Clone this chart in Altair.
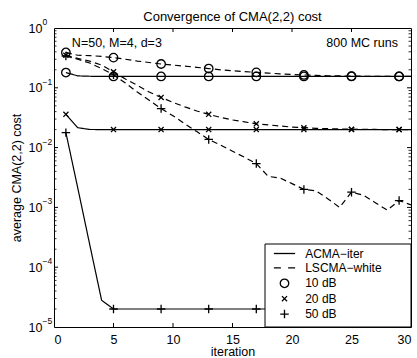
import altair as alt
import pandas as pd

# ---------------- data ----------------
iterations = list(range(1, 31))

acma_10 = [0.180, 0.158, 0.156, 0.155, 0.155, 0.155, 0.155, 0.155, 0.155, 0.155,
           0.155, 0.155, 0.155, 0.155, 0.155, 0.155, 0.155, 0.155, 0.155, 0.155,
           0.155, 0.155, 0.155, 0.155, 0.155, 0.155, 0.155, 0.155, 0.155, 0.155]
acma_20 = [0.036, 0.0215, 0.0201, 0.0200, 0.0200, 0.0200, 0.0200, 0.0200, 0.0200, 0.0200,
           0.0200, 0.0200, 0.0200, 0.0200, 0.0200, 0.0200, 0.0200, 0.0200, 0.0200, 0.0200,
           0.0200, 0.0200, 0.0200, 0.0200, 0.0200, 0.0200, 0.0200, 0.0200, 0.0200, 0.0200]
acma_50 = [0.0178, 0.0021, 0.00024, 0.000028, 0.000020, 0.000020, 0.000020, 0.000020, 0.000020, 0.000020,
           0.000020, 0.000020, 0.000020, 0.000020, 0.000020, 0.000020, 0.000020, 0.000020, 0.000020, 0.000020,
           0.000020, 0.000020, 0.000020, 0.000020, 0.000020, 0.000020, 0.000020, 0.000020, 0.000020, 0.000020]
lscma_10 = [0.39, 0.35, 0.345, 0.335, 0.32, 0.30, 0.28, 0.265, 0.25, 0.24,
            0.23, 0.22, 0.21, 0.20, 0.193, 0.187, 0.181, 0.176, 0.171, 0.167,
            0.164, 0.161, 0.159, 0.158, 0.157, 0.156, 0.156, 0.155, 0.155, 0.155]
lscma_20 = [0.35, 0.31, 0.28, 0.24, 0.185, 0.14, 0.11, 0.085, 0.069, 0.057,
            0.048, 0.041, 0.036, 0.032, 0.029, 0.027, 0.025, 0.024, 0.023, 0.022,
            0.0215, 0.021, 0.0207, 0.0205, 0.0203, 0.0202, 0.0201, 0.0200, 0.0200, 0.0200]
lscma_50 = [0.34, 0.30, 0.26, 0.21, 0.165, 0.12, 0.085, 0.062, 0.045, 0.034,
            0.025, 0.0185, 0.0137, 0.011, 0.0087, 0.0069, 0.0054, 0.0033, 0.0031, 0.0025,
            0.0020, 0.0019, 0.0014, 0.0010, 0.0018, 0.0016, 0.0012, 0.0009, 0.0013, 0.0011]

methods = ["ACMA\u2212iter", "LSCMA\u2212white"]
snrs = ["10 dB", "20 dB", "50 dB"]

y_tick_values = [1, 0.1, 0.01, 0.001, 0.0001, 0.00001]
y_tick_exponents = ["0", "\u22121", "\u22122", "\u22123", "\u22124", "\u22125"]
x_tick_values = [0, 5, 10, 15, 20, 25, 30]

ann_left_text = ["N=50, M=4, d=3"]
ann_left_iter = [1.5]
ann_left_cost = [0.555]
ann_right_text = ["800 MC runs"]
ann_right_iter = [28.9]
ann_right_cost = [0.555]

# ---------------- tables ----------------
series = [
    (methods[0], snrs[0], acma_10), (methods[0], snrs[1], acma_20), (methods[0], snrs[2], acma_50),
    (methods[1], snrs[0], lscma_10), (methods[1], snrs[1], lscma_20), (methods[1], snrs[2], lscma_50),
]
rows = []
for m, s, vals in series:
    for it, v in zip(iterations, vals):
        rows.append({"iteration": it, "cost": v, "method": m, "snr": s, "series": m + " " + s})
df = pd.DataFrame(rows)

W, H = 357, 299
FONT = "Liberation Sans"

legend_labels = methods + snrs
shape_paths = [
    "M-2.5,0H2.5",
    "M-2.5,0H-0.85M0.85,0H2.5",
    "circle",
    "M-0.6,-0.6L0.6,0.6M-0.6,0.6L0.6,-0.6",
    "M-1,0H1M0,-1V1",
]

x_enc = alt.X(
    "iteration:Q",
    scale=alt.Scale(domain=[0, 30], nice=False, zero=False),
    axis=alt.Axis(values=x_tick_values, ticks=False, domain=False, grid=False,
                  labelPadding=6, labelFontSize=12.5, labelColor="black",
                  title="iteration", titleFontSize=12.5, titleFontWeight="normal",
                  titleColor="black", titleBaseline="alphabetic", titleY=28.5),
)
y_enc = alt.Y(
    "cost:Q",
    scale=alt.Scale(type="log", domain=[1e-5, 1], nice=False),
    axis=alt.Axis(values=y_tick_values, labelExpr="'10'", ticks=False, domain=False, grid=False,
                  labelPadding=12, labelFontSize=12.5, labelColor="black",
                  title="average CMA(2,2) cost", titleFontSize=12.5, titleFontWeight="normal",
                  titleColor="black", titleX=-38, titleY=H / 2, titleAngle=270,
                  titleBaseline="middle", titleAlign="center"),
)

base = alt.Chart(df)

lines = base.mark_line(color="black", strokeWidth=1.2).encode(
    x=x_enc, y=y_enc,
    detail="series:N",
    strokeDash=alt.StrokeDash("method:N", scale=alt.Scale(domain=methods, range=[[1, 0], [6, 4]]), legend=None),
)

points = base.transform_filter("(datum.iteration - 1) % 4 == 0").mark_point(
    filled=False, color="black", size=72, strokeWidth=1.3, opacity=1
).encode(
    x="iteration:Q", y="cost:Q",
    shape=alt.Shape(
        "snr:N",
        scale=alt.Scale(domain=legend_labels, range=shape_paths),
        legend=alt.Legend(title=None, orient="none", legendX=211, legendY=219.5, padding=0,
                          symbolOffset=13.5, labelOffset=14.7, rowPadding=2.4, symbolSize=72,
                          symbolStrokeWidth=1.3, symbolStrokeColor="black",
                          symbolFillColor="transparent", labelFontSize=12, labelColor="black",
                          labelFont=FONT),
    ),
)

# inward ticks on all four sides
xt = pd.DataFrame({"iteration": x_tick_values[1:-1]})
bottom_ticks = alt.Chart(xt).mark_rule(color="black", strokeWidth=1).encode(
    x="iteration:Q", y=alt.value(H), y2=alt.value(H - 4))
top_ticks = alt.Chart(xt).mark_rule(color="black", strokeWidth=1).encode(
    x="iteration:Q", y=alt.value(0), y2=alt.value(4))

yt_major = pd.DataFrame({"cost": y_tick_values[1:-1]})
minor_vals = [m * 10.0 ** k for k in range(-5, 0) for m in range(2, 10)]
yt_minor = pd.DataFrame({"cost": minor_vals})
left_major = alt.Chart(yt_major).mark_rule(color="black", strokeWidth=1).encode(
    y="cost:Q", x=alt.value(0), x2=alt.value(4))
right_major = alt.Chart(yt_major).mark_rule(color="black", strokeWidth=1).encode(
    y="cost:Q", x=alt.value(W), x2=alt.value(W - 4))
left_minor = alt.Chart(yt_minor).mark_rule(color="black", strokeWidth=0.8).encode(
    y="cost:Q", x=alt.value(0), x2=alt.value(2.5))
right_minor = alt.Chart(yt_minor).mark_rule(color="black", strokeWidth=0.8).encode(
    y="cost:Q", x=alt.value(W), x2=alt.value(W - 2.5))

# legend frame
legend_box = alt.Chart(pd.DataFrame({"k": [0]})).mark_rect(
    fill="white", stroke="black", strokeWidth=1
).encode(x=alt.value(211), x2=alt.value(W), y=alt.value(216), y2=alt.value(H))

# annotations
ann_l = alt.Chart(pd.DataFrame({"text": ann_left_text, "iteration": ann_left_iter, "cost": ann_left_cost})).mark_text(
    align="left", baseline="middle", fontSize=12.5, color="black", font=FONT
).encode(x="iteration:Q", y="cost:Q", text="text:N")
ann_r = alt.Chart(pd.DataFrame({"text": ann_right_text, "iteration": ann_right_iter, "cost": ann_right_cost})).mark_text(
    align="right", baseline="middle", fontSize=12.5, color="black", font=FONT
).encode(x="iteration:Q", y="cost:Q", text="text:N")

# exponents of the y tick labels
exps = alt.Chart(pd.DataFrame({"cost": y_tick_values, "exp": y_tick_exponents})).mark_text(
    align="left", baseline="middle", dy=-6, fontSize=8.5, color="black", font=FONT
).encode(y="cost:Q", x=alt.value(-11.5), text="exp:N")

chart = alt.layer(
    lines, points, bottom_ticks, top_ticks, left_major, right_major, left_minor, right_minor,
    legend_box, ann_l, ann_r, exps
).properties(
    width=W, height=H,
    autosize=alt.AutoSizeParams(type="none"),
    padding={"left": 54, "top": 28, "right": 6, "bottom": 31},
    title=alt.TitleParams("Convergence of CMA(2,2) cost", fontSize=13, fontWeight="normal",
                          anchor="middle", offset=7, dy=13, color="black", font=FONT),
).configure(
    font=FONT,
).configure_view(
    stroke="black", strokeWidth=1,
)

chart.save("out.html", embed_options={"renderer": "svg", "actions": False})
